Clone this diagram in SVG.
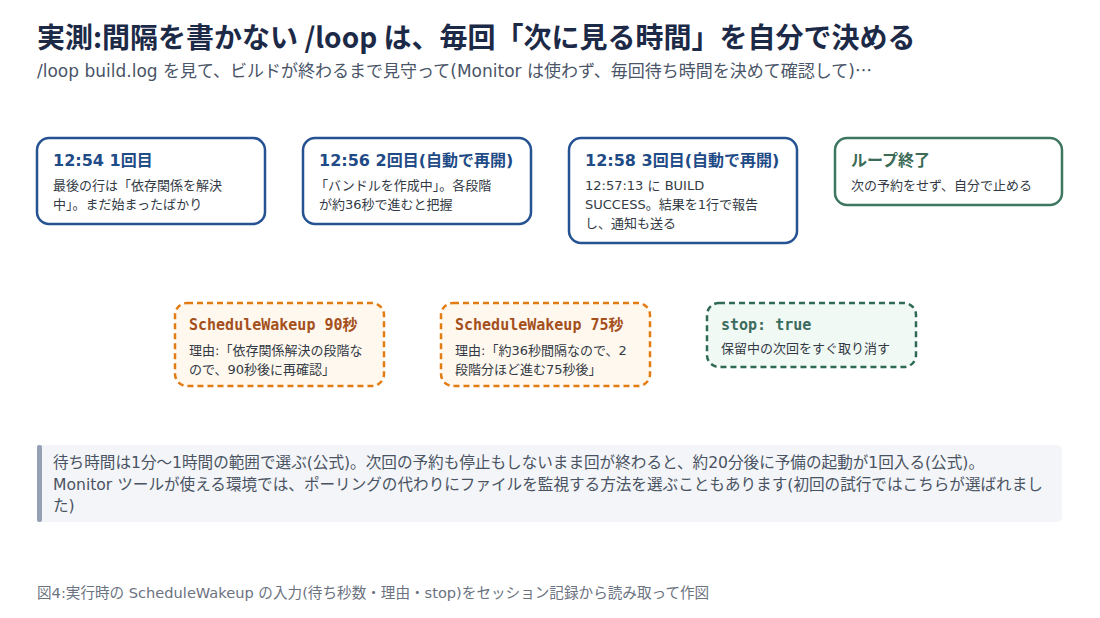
<svg xmlns="http://www.w3.org/2000/svg" width="1100" height="618" viewBox="0 0 1100 618">
<style>
text{font-family:"DejaVu Sans","Noto Sans CJK JP",sans-serif}
.cjk{font-family:"Noto Sans CJK JP",sans-serif}
.title{font-size:28px;font-weight:700;fill:#1c2a47;font-family:"Noto Sans CJK JP",sans-serif}
.sub{font-size:17px;fill:#4a5568}
.box{fill:#ffffff;stroke:#245293;stroke-width:2.5}
.gbox{fill:#ffffff;stroke:#3e7760;stroke-width:2.5}
.ht{font-size:16px;font-weight:700;fill:#1f4b87}
.gt{font-size:16px;font-weight:700;fill:#3b6b56}
.bt{font-size:13px;fill:#333a45}
.obox{fill:#fff8ee;stroke:#e27b12;stroke-width:2.5;stroke-dasharray:6 4}
.sbox{fill:#f1f9f5;stroke:#2f6a56;stroke-width:2.5;stroke-dasharray:6 4}
.mt{font-family:"DejaVu Sans Mono","Liberation Mono","Noto Sans CJK JP",monospace;font-size:15px;font-weight:700}
.note{font-size:15.6px;fill:#4a5362}
.cap{font-size:14.6px;fill:#6b7280}
</style>
<rect x="0" y="0" width="1100" height="618" fill="#ffffff"/>
<text class="title" x="37" y="48">実測:間隔を書かない /loop は、毎回「次に見る時間」を自分で決める</text>
<text class="sub" x="37" y="77">/loop build.log を見て、ビルドが終わるまで見守って(Monitor は使わず、毎回待ち時間を決めて確認して)<tspan class="cjk">…</tspan></text>

<g id="node-run1">
<rect class="box" x="37" y="138" width="228" height="86" rx="12"/>
<text class="ht" x="53" y="166">12:54 1回目</text>
<text class="bt" x="53" y="190">最後の行は「依存関係を解決</text>
<text class="bt" x="53" y="209">中」。まだ始まったばかり</text>
</g>
<g id="node-run2">
<rect class="box" x="303" y="138" width="228" height="86" rx="12"/>
<text class="ht" x="319" y="166">12:56 2回目(自動で再開)</text>
<text class="bt" x="315" y="190">「バンドルを作成中」。各段階</text>
<text class="bt" x="319" y="209">が約36秒で進むと把握</text>
</g>
<g id="node-run3">
<rect class="box" x="569" y="138" width="228" height="105" rx="12"/>
<text class="ht" x="585" y="166">12:58 3回目(自動で再開)</text>
<text class="bt" x="585" y="190">12:57:13 に BUILD</text>
<text class="bt" x="585" y="209">SUCCESS。結果を1行で報告</text>
<text class="bt" x="585" y="228">し、通知も送る</text>
</g>
<g id="node-end">
<rect class="gbox" x="835" y="138" width="227" height="67" rx="12"/>
<text class="gt" x="851" y="166">ループ終了</text>
<text class="bt" x="851" y="190">次の予約をせず、自分で止める</text>
</g>

<g id="node-wake90">
<rect class="obox" x="175" y="303" width="209" height="83" rx="12"/>
<text class="mt" x="189" y="330" fill="#a4501c">ScheduleWakeup 90秒</text>
<text class="bt" x="189" y="355">理由:「依存関係解決の段階な</text>
<text class="bt" x="189" y="374">ので、90秒後に再確認」</text>
</g>
<g id="node-wake75">
<rect class="obox" x="441" y="303" width="209" height="83" rx="12"/>
<text class="mt" x="455" y="330" fill="#a4501c">ScheduleWakeup 75秒</text>
<text class="bt" x="455" y="355">理由:「約36秒間隔なので、2</text>
<text class="bt" x="455" y="374">段階分ほど進む75秒後」</text>
</g>
<g id="node-stop">
<rect class="sbox" x="707" y="303" width="209" height="64" rx="12"/>
<text class="mt" x="721" y="330" fill="#3b6b5c">stop: true</text>
<text class="bt" x="721" y="353">保留中の次回をすぐ取り消す</text>
</g>

<g id="connectors"></g>

<g id="note">
<rect x="37" y="445" width="1025" height="77" rx="5" fill="#f3f5f9"/>
<rect x="37" y="445" width="5" height="77" rx="2" fill="#95a0b3"/>
<text class="note" x="53" y="468">待ち時間は1分〜1時間の範囲で選ぶ(公式)。次回の予約も停止もしないまま回が終わると、約20分後に予備の起動が1回入る(公式)。</text>
<text class="note" x="53" y="490">Monitor ツールが使える環境では、ポーリングの代わりにファイルを監視する方法を選ぶこともあります(初回の試行ではこちらが選ばれまし</text>
<text class="note" x="53" y="511">た)</text>
</g>
<text class="cap" x="37" y="598">図4:実行時の ScheduleWakeup の入力(待ち秒数・理由・stop)をセッション記録から読み取って作図</text>
</svg>
